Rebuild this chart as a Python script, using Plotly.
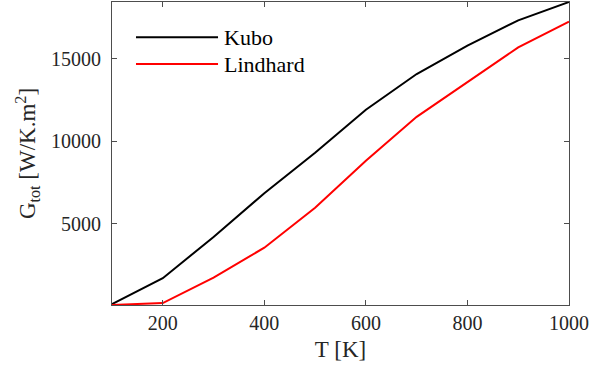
import plotly.graph_objects as go

T = [100, 200, 300, 400, 500, 600, 700, 800, 900, 1000]
kubo = [150, 1710, 4210, 6860, 9300, 11910, 14070, 15790, 17320, 18430]
lindhard = [90, 210, 1750, 3560, 5970, 8820, 11480, 13600, 15680, 17240]
names = ["Kubo", "Lindhard"]
colors = ["#000000", "#ff0000"]
x_ticks = [200, 400, 600, 800, 1000]
y_ticks = [5000, 10000, 15000]

font = "Liberation Serif, Times New Roman, serif"
fs = 20
fig = go.Figure()
for ys, n, c in zip([kubo, lindhard], names, colors):
    fig.add_trace(go.Scatter(x=T, y=ys, mode="lines", name=n,
                             line=dict(color=c, width=2), showlegend=False))

axis_common = dict(showgrid=False, zeroline=False, showline=True, mirror="ticks",
                   linecolor="#4d4d4d", linewidth=1, ticks="inside", ticklen=5,
                   tickcolor="#4d4d4d", tickfont=dict(family=font, size=fs, color="#262626"))
fig.update_xaxes(range=[100, 1000], tickvals=x_ticks, ticktext=[str(v) for v in x_ticks],
                 title=dict(text="T [K]", font=dict(family=font, size=23, color="#262626"), standoff=7),
                 **axis_common)
fig.update_yaxes(range=[90, 18430], tickvals=y_ticks, ticktext=[str(v) for v in y_ticks],
                 ticklabelstandoff=6,
                 title=dict(text="G<sub>tot</sub> [W/K.m<sup>2</sup>]",
                            font=dict(family=font, size=23, color="#262626"), standoff=8),
                 **axis_common)

leg_y = [0.884, 0.795]
for n, c, yy in zip(names, colors, leg_y):
    fig.add_shape(type="line", xref="paper", yref="paper", x0=0.0525, x1=0.232,
                  y0=yy, y1=yy, line=dict(color=c, width=2))
    fig.add_annotation(xref="paper", yref="paper", x=0.24, y=yy, text=n, showarrow=False,
                       xanchor="left", yanchor="middle",
                       font=dict(family=font, size=22, color="#000000"))

fig.update_layout(width=594, height=371, margin=dict(l=112, r=25, t=2, b=66),
                  plot_bgcolor="white", paper_bgcolor="white",
                  font=dict(family=font, size=fs))
fig.write_html("out.html")
